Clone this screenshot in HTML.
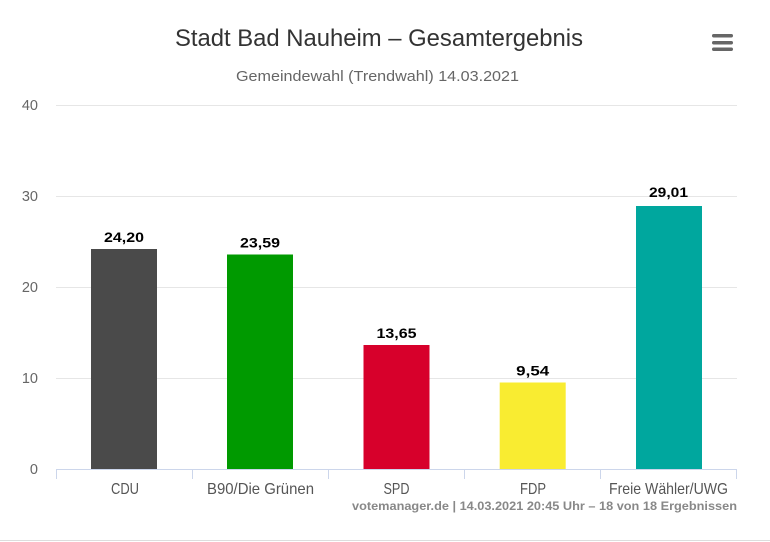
<!DOCTYPE html>
<html>
<head>
<meta charset="utf-8">
<style>
  html,body{margin:0;padding:0;background:#fff;}
  svg{display:block;}
  text{font-family:"Liberation Sans",sans-serif;}
</style>
</head>
<body>
<svg width="770" height="542" viewBox="0 0 770 542" xmlns="http://www.w3.org/2000/svg">
  <rect x="0" y="0" width="770" height="542" fill="#ffffff"/>

  <!-- Title -->
  <text x="175" y="46" font-size="24" fill="#333333" textLength="408" lengthAdjust="spacingAndGlyphs">Stadt Bad Nauheim – Gesamtergebnis</text>
  <text x="236" y="81" font-size="15" fill="#666666" textLength="283" lengthAdjust="spacingAndGlyphs">Gemeindewahl (Trendwahl) 14.03.2021</text>

  <!-- Hamburger icon -->
  <g fill="#666666">
    <rect x="712" y="34" width="21" height="3.5" rx="1.7"/>
    <rect x="712" y="41" width="21" height="3.5" rx="1.7"/>
    <rect x="712" y="47.5" width="21" height="3.5" rx="1.7"/>
  </g>

  <!-- Gridlines -->
  <g stroke="#e6e6e6" stroke-width="1">
    <line x1="56" y1="105.5" x2="737" y2="105.5"/>
    <line x1="56" y1="196.5" x2="737" y2="196.5"/>
    <line x1="56" y1="287.5" x2="737" y2="287.5"/>
    <line x1="56" y1="378.5" x2="737" y2="378.5"/>
  </g>

  <!-- Y labels -->
  <g font-size="14.5" fill="#666666" text-anchor="end">
    <text x="38" y="110">40</text>
    <text x="38" y="201">30</text>
    <text x="38" y="292">20</text>
    <text x="38" y="383">10</text>
    <text x="38" y="474">0</text>
  </g>

  <!-- Bars -->
  <rect x="91" y="249" width="66" height="220" fill="#4a4a4a"/>
  <rect x="227" y="254.5" width="66" height="214.5" fill="#009a00"/>
  <rect x="363.5" y="345" width="66" height="124" fill="#d7002b"/>
  <rect x="499.7" y="382.5" width="66" height="86.5" fill="#f9ec31"/>
  <rect x="636" y="206" width="66" height="263" fill="#00a79e"/>

  <!-- Data labels -->
  <g font-size="14" font-weight="bold" fill="#000000" text-anchor="middle">
    <text x="124" y="242" textLength="40" lengthAdjust="spacingAndGlyphs">24,20</text>
    <text x="260" y="247.5" textLength="40" lengthAdjust="spacingAndGlyphs">23,59</text>
    <text x="396.5" y="338" textLength="40" lengthAdjust="spacingAndGlyphs">13,65</text>
    <text x="532.7" y="375.5" textLength="33" lengthAdjust="spacingAndGlyphs">9,54</text>
    <text x="668.5" y="197" textLength="39" lengthAdjust="spacingAndGlyphs">29,01</text>
  </g>

  <!-- X axis -->
  <line x1="56" y1="469.5" x2="737" y2="469.5" stroke="#ccd6eb" stroke-width="1"/>
  <g stroke="#ccd6eb" stroke-width="1">
    <line x1="56.5" y1="469" x2="56.5" y2="479"/>
    <line x1="192.5" y1="469" x2="192.5" y2="479"/>
    <line x1="328.5" y1="469" x2="328.5" y2="479"/>
    <line x1="464.5" y1="469" x2="464.5" y2="479"/>
    <line x1="600.5" y1="469" x2="600.5" y2="479"/>
    <line x1="736.5" y1="469" x2="736.5" y2="479"/>
  </g>

  <!-- X labels -->
  <g font-size="16" fill="#555555" text-anchor="middle">
    <text x="125" y="494" textLength="28" lengthAdjust="spacingAndGlyphs">CDU</text>
    <text x="260.5" y="494" textLength="107" lengthAdjust="spacingAndGlyphs">B90/Die Grünen</text>
    <text x="396.5" y="494" textLength="26" lengthAdjust="spacingAndGlyphs">SPD</text>
    <text x="533" y="494" textLength="26" lengthAdjust="spacingAndGlyphs">FDP</text>
    <text x="668.5" y="494" textLength="119" lengthAdjust="spacingAndGlyphs">Freie Wähler/UWG</text>
  </g>

  <!-- Credits -->
  <text x="737" y="510" font-size="12" font-weight="bold" fill="#888888" text-anchor="end" textLength="385" lengthAdjust="spacingAndGlyphs">votemanager.de | 14.03.2021 20:45 Uhr – 18 von 18 Ergebnissen</text>

  <!-- Bottom border -->
  <line x1="0" y1="540.5" x2="770" y2="540.5" stroke="#dddddd" stroke-width="1"/>
</svg>
</body>
</html>
